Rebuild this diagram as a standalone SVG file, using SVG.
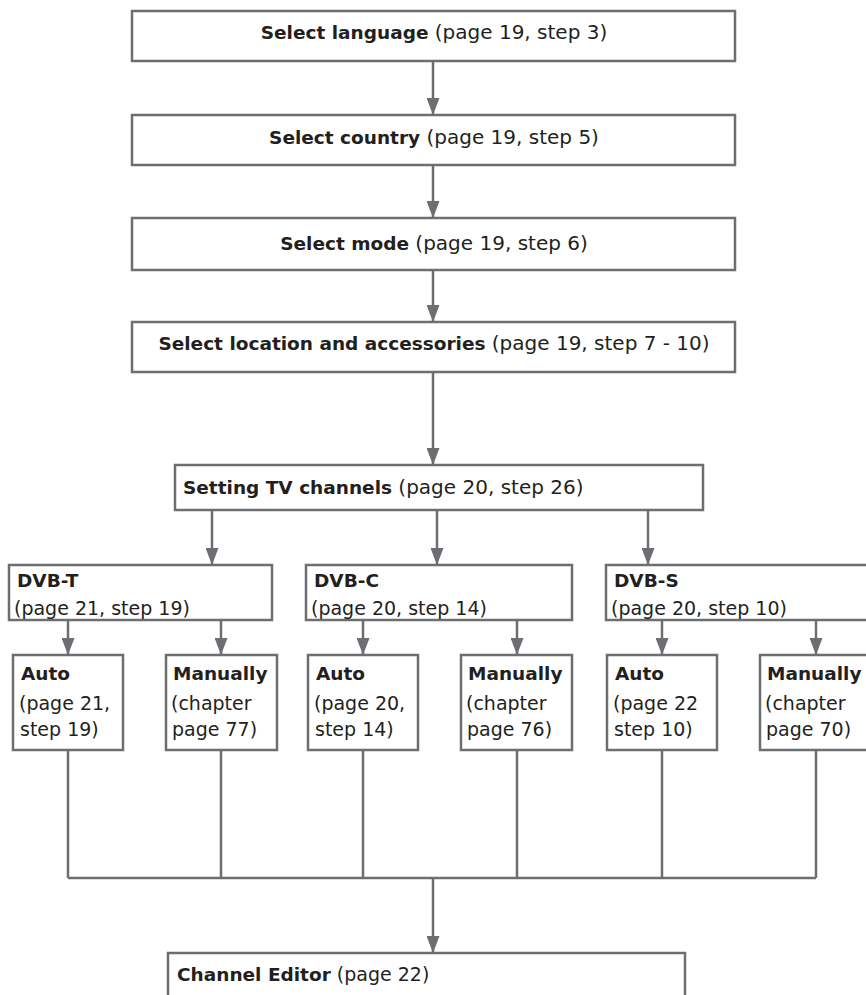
<svg xmlns="http://www.w3.org/2000/svg" width="866" height="995" viewBox="0 0 866 995">
<style>
.box{fill:#fff;stroke:#6d6e71;stroke-width:2.5}
.ln{fill:none;stroke:#6d6e71;stroke-width:2.5}
.t{font-family:"DejaVu Sans",sans-serif;font-size:19px;fill:#231f20}
.h{font-size:20px}
.b{font-weight:bold;font-size:18.5px}
.hb{font-weight:bold;font-size:18.5px}
</style>
<defs>
<marker id="ah" markerUnits="userSpaceOnUse" markerWidth="17" markerHeight="13" viewBox="0 0 17 13" refX="17" refY="6.5" orient="auto">
<path d="M0,0 L17,6.5 L0,13 z" fill="#6d6e71"/>
</marker>
</defs>
<rect width="866" height="995" fill="#fff"/>
<g id="connectors">
<line class="ln" x1="433" y1="61" x2="433" y2="115" marker-end="url(#ah)"/>
<line class="ln" x1="433" y1="165" x2="433" y2="218" marker-end="url(#ah)"/>
<line class="ln" x1="433" y1="270" x2="433" y2="322" marker-end="url(#ah)"/>
<line class="ln" x1="433" y1="372" x2="433" y2="465" marker-end="url(#ah)"/>
<line class="ln" x1="212" y1="510" x2="212" y2="565" marker-end="url(#ah)"/>
<line class="ln" x1="437" y1="510" x2="437" y2="565" marker-end="url(#ah)"/>
<line class="ln" x1="648" y1="510" x2="648" y2="565" marker-end="url(#ah)"/>
<line class="ln" x1="68" y1="620" x2="68" y2="655" marker-end="url(#ah)"/>
<line class="ln" x1="221" y1="620" x2="221" y2="655" marker-end="url(#ah)"/>
<line class="ln" x1="363" y1="620" x2="363" y2="655" marker-end="url(#ah)"/>
<line class="ln" x1="517" y1="620" x2="517" y2="655" marker-end="url(#ah)"/>
<line class="ln" x1="662" y1="620" x2="662" y2="655" marker-end="url(#ah)"/>
<line class="ln" x1="816" y1="620" x2="816" y2="655" marker-end="url(#ah)"/>
<path class="ln" d="M68,750 V878 M221,750 V878 M363,750 V878 M517,750 V878 M662,750 V878 M816,750 V878 M68,878 H816"/>
<line class="ln" x1="433" y1="878" x2="433" y2="953" marker-end="url(#ah)"/>
</g>
<g id="n-language">
<rect class="box" x="132" y="11" width="603" height="50"/>
<text class="t h" x="434" y="39" text-anchor="middle"><tspan class="hb">Select language</tspan> (page 19, step 3)</text>
</g>
<g id="n-country">
<rect class="box" x="132" y="115" width="603" height="50"/>
<text class="t h" x="434" y="144" text-anchor="middle"><tspan class="hb">Select country</tspan> (page 19, step 5)</text>
</g>
<g id="n-mode">
<rect class="box" x="132" y="218" width="603" height="52"/>
<text class="t h" x="434" y="250" text-anchor="middle"><tspan class="hb">Select mode</tspan> (page 19, step 6)</text>
</g>
<g id="n-location">
<rect class="box" x="132" y="322" width="603" height="50"/>
<text class="t h" x="434" y="350" text-anchor="middle"><tspan class="hb">Select location and accessories</tspan> (page 19, step 7 - 10)</text>
</g>
<g id="n-setting">
<rect class="box" x="175" y="465" width="528" height="45"/>
<text class="t h" x="183" y="494"><tspan class="hb">Setting TV channels</tspan> (page 20, step 26)</text>
</g>
<g id="n-dvbt">
<rect class="box" x="9" y="565" width="263" height="55"/>
<text class="t b" x="17" y="587">DVB-T</text>
<text class="t" x="14" y="615">(page 21, step 19)</text>
</g>
<g id="n-dvbc">
<rect class="box" x="306" y="565" width="266" height="55"/>
<text class="t b" x="314" y="587">DVB-C</text>
<text class="t" x="311" y="615">(page 20, step 14)</text>
</g>
<g id="n-dvbs">
<rect class="box" x="606" y="565" width="270" height="55"/>
<text class="t b" x="614" y="587">DVB-S</text>
<text class="t" x="611" y="615">(page 20, step 10)</text>
</g>
<g id="n-auto-t">
<rect class="box" x="13" y="655" width="110" height="95"/>
<text class="t b" x="21" y="680">Auto</text>
<text class="t" x="19" y="710">(page 21,</text>
<text class="t" x="20" y="736">step 19)</text>
</g>
<g id="n-man-t">
<rect class="box" x="166" y="655" width="111" height="95"/>
<text class="t b" x="173" y="680">Manually</text>
<text class="t" x="171" y="710">(chapter</text>
<text class="t" x="172" y="736">page 77)</text>
</g>
<g id="n-auto-c">
<rect class="box" x="308" y="655" width="110" height="95"/>
<text class="t b" x="316" y="680">Auto</text>
<text class="t" x="314" y="710">(page 20,</text>
<text class="t" x="315" y="736">step 14)</text>
</g>
<g id="n-man-c">
<rect class="box" x="461" y="655" width="111" height="95"/>
<text class="t b" x="468" y="680">Manually</text>
<text class="t" x="466" y="710">(chapter</text>
<text class="t" x="467" y="736">page 76)</text>
</g>
<g id="n-auto-s">
<rect class="box" x="607" y="655" width="110" height="95"/>
<text class="t b" x="615" y="680">Auto</text>
<text class="t" x="613" y="710">(page 22</text>
<text class="t" x="614" y="736">step 10)</text>
</g>
<g id="n-man-s">
<rect class="box" x="760" y="655" width="120" height="95"/>
<text class="t b" x="767" y="680">Manually</text>
<text class="t" x="765" y="710">(chapter</text>
<text class="t" x="766" y="736">page 70)</text>
</g>
<g id="n-editor">
<rect class="box" x="168" y="953" width="517" height="60"/>
<text class="t" x="177" y="981"><tspan class="b">Channel Editor</tspan> (page 22)</text>
</g>
</svg>
